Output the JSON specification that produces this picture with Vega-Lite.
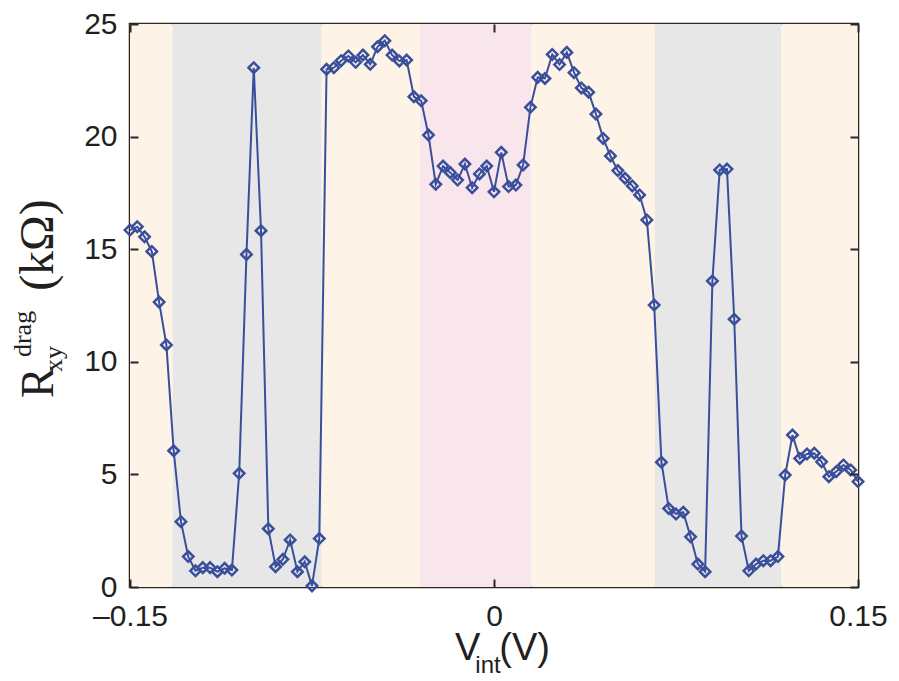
{
  "$schema": "https://vega.github.io/schema/vega-lite/v6.json",
  "width": 728,
  "height": 563,
  "autosize": "none",
  "padding": {"left": 130, "top": 24, "right": 41, "bottom": 94},
  "background": "white",
  "config": {
    "view": {"stroke": "#2b2622", "strokeWidth": 2.5},
    "axis": {
      "domain": false,
      "grid": false,
      "tickWidth": 2,
      "tickColor": "#2b2622",
      "labelFont": "Liberation Sans",
      "labelFontSize": 30,
      "labelColor": "#231f20",
      "labelFlush": false,
      "labelOverlap": false,
      "title": null
    }
  },
  "datasets": {
    "bands": [
      {"v0": -0.15, "v1": -0.1324, "zone": "edge"},
      {"v0": -0.1324, "v1": -0.071, "zone": "gap"},
      {"v0": -0.071, "v1": -0.0305, "zone": "edge"},
      {"v0": -0.0305, "v1": 0.0155, "zone": "center"},
      {"v0": 0.0155, "v1": 0.0663, "zone": "edge"},
      {"v0": 0.0663, "v1": 0.1185, "zone": "gap"},
      {"v0": 0.1185, "v1": 0.15, "zone": "edge"}
    ],
    "drag": [
      {"v": -0.150, "r": 15.85}, {"v": -0.147, "r": 16.0}, {"v": -0.144, "r": 15.55}, {"v": -0.141, "r": 14.9},
      {"v": -0.138, "r": 12.65}, {"v": -0.135, "r": 10.75}, {"v": -0.132, "r": 6.05}, {"v": -0.129, "r": 2.9},
      {"v": -0.126, "r": 1.35}, {"v": -0.123, "r": 0.72}, {"v": -0.120, "r": 0.86}, {"v": -0.117, "r": 0.86},
      {"v": -0.114, "r": 0.68}, {"v": -0.111, "r": 0.83}, {"v": -0.108, "r": 0.75}, {"v": -0.105, "r": 5.05},
      {"v": -0.102, "r": 14.77}, {"v": -0.099, "r": 23.06}, {"v": -0.096, "r": 15.82}, {"v": -0.093, "r": 2.59},
      {"v": -0.090, "r": 0.9}, {"v": -0.087, "r": 1.23}, {"v": -0.084, "r": 2.09}, {"v": -0.081, "r": 0.68},
      {"v": -0.078, "r": 1.12}, {"v": -0.075, "r": 0.05}, {"v": -0.072, "r": 2.15}, {"v": -0.069, "r": 22.99},
      {"v": -0.066, "r": 23.06}, {"v": -0.063, "r": 23.37}, {"v": -0.060, "r": 23.58}, {"v": -0.057, "r": 23.3},
      {"v": -0.054, "r": 23.62}, {"v": -0.051, "r": 23.21}, {"v": -0.048, "r": 23.99}, {"v": -0.045, "r": 24.26},
      {"v": -0.042, "r": 23.62}, {"v": -0.039, "r": 23.36}, {"v": -0.036, "r": 23.4}, {"v": -0.033, "r": 21.77},
      {"v": -0.030, "r": 21.59}, {"v": -0.027, "r": 20.07}, {"v": -0.024, "r": 17.88}, {"v": -0.021, "r": 18.69},
      {"v": -0.018, "r": 18.4}, {"v": -0.015, "r": 18.07}, {"v": -0.012, "r": 18.78}, {"v": -0.009, "r": 17.73},
      {"v": -0.006, "r": 18.34}, {"v": -0.003, "r": 18.69}, {"v": 0.000, "r": 17.55}, {"v": 0.003, "r": 19.3},
      {"v": 0.006, "r": 17.78}, {"v": 0.009, "r": 17.85}, {"v": 0.012, "r": 18.74}, {"v": 0.015, "r": 21.3},
      {"v": 0.018, "r": 22.63}, {"v": 0.021, "r": 22.58}, {"v": 0.024, "r": 23.65}, {"v": 0.027, "r": 23.2},
      {"v": 0.030, "r": 23.74}, {"v": 0.033, "r": 22.84}, {"v": 0.036, "r": 22.16}, {"v": 0.039, "r": 21.97},
      {"v": 0.042, "r": 21.0}, {"v": 0.045, "r": 19.92}, {"v": 0.048, "r": 19.14}, {"v": 0.051, "r": 18.49},
      {"v": 0.054, "r": 18.15}, {"v": 0.057, "r": 17.81}, {"v": 0.060, "r": 17.41}, {"v": 0.063, "r": 16.3},
      {"v": 0.066, "r": 12.52}, {"v": 0.069, "r": 5.54}, {"v": 0.072, "r": 3.49}, {"v": 0.075, "r": 3.24},
      {"v": 0.078, "r": 3.32}, {"v": 0.081, "r": 2.23}, {"v": 0.084, "r": 1.02}, {"v": 0.087, "r": 0.68},
      {"v": 0.090, "r": 13.59}, {"v": 0.093, "r": 18.52}, {"v": 0.096, "r": 18.56}, {"v": 0.099, "r": 11.89},
      {"v": 0.102, "r": 2.26}, {"v": 0.105, "r": 0.72}, {"v": 0.108, "r": 1.02}, {"v": 0.111, "r": 1.17},
      {"v": 0.114, "r": 1.17}, {"v": 0.117, "r": 1.35}, {"v": 0.120, "r": 4.97}, {"v": 0.123, "r": 6.75},
      {"v": 0.126, "r": 5.71}, {"v": 0.129, "r": 5.91}, {"v": 0.132, "r": 5.94}, {"v": 0.135, "r": 5.56},
      {"v": 0.138, "r": 4.9}, {"v": 0.141, "r": 5.12}, {"v": 0.144, "r": 5.42}, {"v": 0.147, "r": 5.2},
      {"v": 0.150, "r": 4.68}
    ]
  },
  "layer": [
    {
      "data": {"name": "bands"},
      "mark": {"type": "rect", "stroke": null},
      "encoding": {
        "x": {"field": "v0", "type": "quantitative", "axis": null,
              "scale": {"domain": [-0.15, 0.15], "nice": false, "zero": false}},
        "x2": {"field": "v1"},
        "color": {"field": "zone", "type": "nominal", "legend": null,
                  "scale": {"domain": ["edge", "gap", "center"], "range": ["#fdf3e7", "#e7e7e7", "#f9e6ed"]}}
      }
    },
    {
      "data": {"name": "drag"},
      "mark": {"type": "point", "opacity": 0},
      "encoding": {
        "x": {"field": "v", "type": "quantitative",
              "axis": {"orient": "bottom", "values": [-0.15, 0, 0.15], "labels": false, "ticks": true, "tickSize": 8, "offset": -8, "zindex": 2}},
        "y": {"field": "r", "type": "quantitative",
              "axis": {"orient": "left", "values": [0, 5, 10, 15, 20, 25], "labels": false, "ticks": true, "tickSize": 8, "offset": -8, "zindex": 2}}
      }
    },
    {
      "data": {"name": "drag"},
      "mark": {"type": "line", "color": "#3a4f9c", "strokeWidth": 2},
      "encoding": {
        "x": {"field": "v", "type": "quantitative",
              "scale": {"domain": [-0.15, 0.15], "nice": false, "zero": false},
              "axis": {"orient": "bottom", "values": [-0.15, 0, 0.15], "ticks": false, "labelPadding": 14, "zindex": 2,
                       "labelExpr": "datum.value < 0 ? '–' + format(-datum.value, '~g') : format(datum.value, '~g')"}},
        "y": {"field": "r", "type": "quantitative",
              "scale": {"domain": [0, 25], "nice": false, "zero": false},
              "axis": {"orient": "left", "values": [0, 5, 10, 15, 20, 25], "ticks": false, "labelPadding": 13, "zindex": 2}}
      }
    },
    {
      "data": {"name": "drag"},
      "mark": {"type": "point", "shape": "diamond", "filled": false, "color": "#3a4f9c", "strokeWidth": 2.5, "size": 110, "opacity": 1},
      "encoding": {
        "x": {"field": "v", "type": "quantitative",
              "axis": {"orient": "top", "values": [-0.15, 0, 0.15], "labels": false, "ticks": true, "tickSize": 8, "offset": -8, "zindex": 2}},
        "y": {"field": "r", "type": "quantitative",
              "axis": {"orient": "right", "values": [0, 5, 10, 15, 20, 25], "labels": false, "ticks": true, "tickSize": 8, "offset": -8, "zindex": 2}}
      }
    },
    {
      "data": {"values": [{}]},
      "mark": {"type": "text", "text": "R", "font": "Liberation Serif", "fontSize": 46, "angle": 270, "align": "left", "baseline": "alphabetic", "color": "#231f20"},
      "encoding": {"x": {"datum": -0.1816, "type": "quantitative", "axis": null}, "y": {"datum": 8.39, "type": "quantitative", "axis": null}}
    },
    {
      "data": {"values": [{}]},
      "mark": {"type": "text", "text": "drag", "font": "Liberation Serif", "fontSize": 26, "angle": 270, "align": "left", "baseline": "alphabetic", "color": "#231f20"},
      "encoding": {"x": {"datum": -0.1906, "type": "quantitative", "axis": null}, "y": {"datum": 10.21, "type": "quantitative", "axis": null}}
    },
    {
      "data": {"values": [{}]},
      "mark": {"type": "text", "text": "xy", "font": "Liberation Serif", "fontSize": 26, "angle": 270, "align": "left", "baseline": "alphabetic", "color": "#231f20"},
      "encoding": {"x": {"datum": -0.1782, "type": "quantitative", "axis": null}, "y": {"datum": 9.55, "type": "quantitative", "axis": null}}
    },
    {
      "data": {"values": [{}]},
      "mark": {"type": "text", "text": "(kΩ)", "font": "Liberation Serif", "fontSize": 48, "angle": 270, "align": "left", "baseline": "alphabetic", "color": "#231f20"},
      "encoding": {"x": {"datum": -0.1816, "type": "quantitative", "axis": null}, "y": {"datum": 13.15, "type": "quantitative", "axis": null}}
    },
    {
      "data": {"values": [{}]},
      "mark": {"type": "text", "text": "V", "font": "Liberation Sans", "fontSize": 38, "align": "left", "baseline": "alphabetic", "color": "#231f20"},
      "encoding": {"x": {"datum": -0.01607, "type": "quantitative", "axis": null}, "y": {"datum": -3.24, "type": "quantitative", "axis": null}}
    },
    {
      "data": {"values": [{}]},
      "mark": {"type": "text", "text": "int", "font": "Liberation Sans", "fontSize": 24, "align": "left", "baseline": "alphabetic", "color": "#231f20"},
      "encoding": {"x": {"datum": -0.0077, "type": "quantitative", "axis": null}, "y": {"datum": -3.82, "type": "quantitative", "axis": null}}
    },
    {
      "data": {"values": [{}]},
      "mark": {"type": "text", "text": "(V)", "font": "Liberation Sans", "fontSize": 38, "align": "left", "baseline": "alphabetic", "color": "#231f20"},
      "encoding": {"x": {"datum": 0.0022, "type": "quantitative", "axis": null}, "y": {"datum": -3.24, "type": "quantitative", "axis": null}}
    }
  ],
  "resolve": {"axis": {"x": "independent", "y": "independent"}}
}
